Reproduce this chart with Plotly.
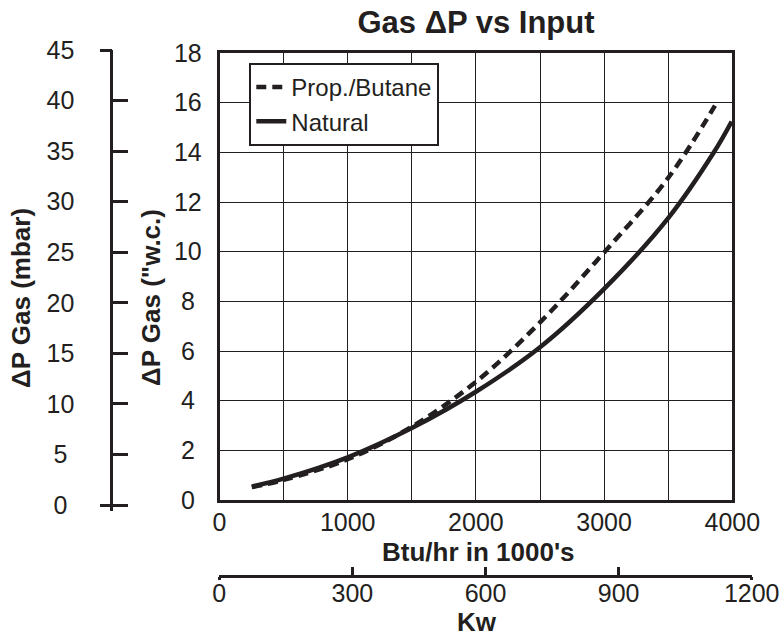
import plotly.graph_objects as go

# ---------------- data ----------------
btu_propane = [252, 500, 1000, 1500, 2000, 2500, 3000, 3500, 3865]
dp_propane = [0.52, 0.81, 1.64, 2.95, 4.76, 7.15, 9.97, 12.97, 15.88]

btu_natural = [252, 500, 1000, 1500, 2000, 2500, 3000, 3500, 3854, 3995]
dp_natural = [0.54, 0.86, 1.72, 2.90, 4.36, 6.15, 8.50, 11.35, 13.98, 15.24]

wc_ticks = [0, 2, 4, 6, 8, 10, 12, 14, 16, 18]
mbar_ticks = [0, 5, 10, 15, 20, 25, 30, 35, 40, 45]
btu_ticks = [0, 1000, 2000, 3000, 4000]
kw_ticks = [0, 300, 600, 900, 1200]

# the page body margin is removed (see post_script), so the figure fills the window
W, H = 782, 639
INK = "#231f20"
FONT = "Liberation Sans, Arial, Helvetica, sans-serif"


def px_x(p):
    return p / W


def px_y(p):
    return 1 - p / H


def pad(v):
    s = str(v)
    return s + "\u00a0" if len(s) == 1 else s


fig = go.Figure()

fig.add_trace(go.Scatter(
    x=btu_propane, y=dp_propane, name="Prop./Butane", mode="lines",
    line=dict(color=INK, width=4.5, dash="10px,6px", shape="spline", smoothing=1),
    hoverinfo="skip"))
fig.add_trace(go.Scatter(
    x=btu_natural, y=dp_natural, name="Natural", mode="lines",
    line=dict(color=INK, width=4.5, shape="spline", smoothing=1),
    hoverinfo="skip"))

# empty traces so the auxiliary axes get drawn
for xa, ya in [("x2", "y3"), ("x2", "y4"), ("x3", "y5"), ("x4", "y5")]:
    fig.add_trace(go.Scatter(x=[], y=[], xaxis=xa, yaxis=ya, showlegend=False,
                             hoverinfo="skip"))

axis_font = dict(family=FONT, size=25, color=INK)
GRID_W = 1.2

fig.update_layout(
    template="none",
    width=W, height=H, autosize=False,
    margin=dict(l=0, r=0, t=0, b=0, pad=0),
    paper_bgcolor="white", plot_bgcolor="white",
    font=dict(family=FONT, color=INK),
    showlegend=True,
    legend=dict(
        x=px_x(249.3), y=px_y(63), xanchor="left", yanchor="top",
        bgcolor="white", bordercolor=INK, borderwidth=2,
        font=dict(family=FONT, size=24, color=INK),
        tracegroupgap=0,
    ),
    title=dict(
        text="Gas ΔP vs Input", automargin=False,
        x=px_x(476), xanchor="center", y=px_y(22), yanchor="middle",
        font=dict(family=FONT, size=31, color=INK, weight="bold"),
    ),
    xaxis=dict(
        domain=[px_x(219.5), px_x(732.3)], range=[0, 4000],
        tickvals=btu_ticks, ticktext=[str(v) for v in btu_ticks],
        ticks="", showgrid=True, gridcolor=INK, gridwidth=GRID_W,
        minor=dict(dtick=500, showgrid=True, gridcolor=INK, gridwidth=GRID_W, ticks=""),
        showline=True, linecolor=INK, linewidth=2.5, mirror=True,
        zeroline=False, tickfont=axis_font, ticklabelstandoff=-2,
        anchor="y", fixedrange=True, automargin=False,
    ),
    yaxis=dict(
        domain=[px_y(500), px_y(53)], range=[0, 18],
        tickvals=wc_ticks, ticktext=[pad(v) for v in wc_ticks],
        ticks="", showgrid=True, gridcolor=INK, gridwidth=GRID_W,
        showline=True, linecolor=INK, linewidth=2.5, mirror=True,
        zeroline=False, tickfont=axis_font, ticklabelstandoff=10,
        anchor="x", fixedrange=True, automargin=False,
    ),
    # mbar axis (left)
    xaxis2=dict(domain=[px_x(113.3), px_x(120)], visible=False, anchor="y3",
                fixedrange=True, automargin=False),
    yaxis3=dict(
        domain=[px_y(510.7), px_y(49.8)], range=[-0.564, 45.02], anchor="x2",
        tickvals=mbar_ticks, ticktext=[pad(v) for v in mbar_ticks],
        ticks="inside", ticklen=15, tickwidth=2.5, tickcolor=INK,
        showline=True, linecolor=INK, linewidth=3, showgrid=False, zeroline=False,
        tickfont=axis_font, ticklabelstandoff=31, fixedrange=True, automargin=False,
    ),
    yaxis4=dict(
        range=[-0.564, 45.02], overlaying="y3", anchor="x2",
        tickvals=[0, 45], ticks="outside", ticklen=12, tickwidth=2.5, tickcolor=INK,
        showticklabels=False, showline=False, showgrid=False, zeroline=False,
        fixedrange=True, automargin=False,
    ),
    # Kw axis (bottom)
    xaxis3=dict(
        domain=[px_x(219.3), px_x(751.7)], range=[0, 1200], anchor="free",
        position=px_y(576),
        tickvals=kw_ticks, ticktext=[str(v) for v in kw_ticks],
        ticks="inside", ticklen=8, tickwidth=2.5, tickcolor=INK,
        showline=True, linecolor=INK, linewidth=2.5, showgrid=False, zeroline=False,
        tickfont=axis_font, ticklabelstandoff=-6, fixedrange=True, automargin=False,
    ),
    xaxis4=dict(
        domain=[px_x(219.3), px_x(751.7)], range=[0, 1200], anchor="free",
        position=px_y(576), overlaying="x3",
        tickvals=[0, 1200], ticks="outside", ticklen=3, tickwidth=2.5, tickcolor=INK,
        showticklabels=False, showline=False, showgrid=False, zeroline=False,
        fixedrange=True, automargin=False,
    ),
    yaxis5=dict(domain=[0.0, 0.05], visible=False, anchor="x3", fixedrange=True,
                automargin=False),
)

title_font = dict(family=FONT, size=26, color=INK, weight="bold")
fig.add_annotation(text="ΔP Gas (mbar)", x=px_x(21), y=px_y(298), xref="paper",
                   yref="paper", showarrow=False, textangle=-90,
                   xanchor="center", yanchor="middle", font=title_font)
fig.add_annotation(text="ΔP Gas (\"w.c.)", x=px_x(151), y=px_y(298), xref="paper",
                   yref="paper", showarrow=False, textangle=-90,
                   xanchor="center", yanchor="middle", font=title_font)
fig.add_annotation(text="Btu/hr in 1000's", x=px_x(478), y=px_y(552), xref="paper",
                   yref="paper", showarrow=False, xanchor="center", yanchor="middle",
                   font=title_font)
fig.add_annotation(text="Kw", x=px_x(477), y=px_y(622), xref="paper",
                   yref="paper", showarrow=False, xanchor="center", yanchor="middle",
                   font=title_font)

fig.write_html(
    "out.html",
    config={"displayModeBar": False},
    post_script="document.body.style.margin='0px';document.body.style.overflow='hidden';",
)
